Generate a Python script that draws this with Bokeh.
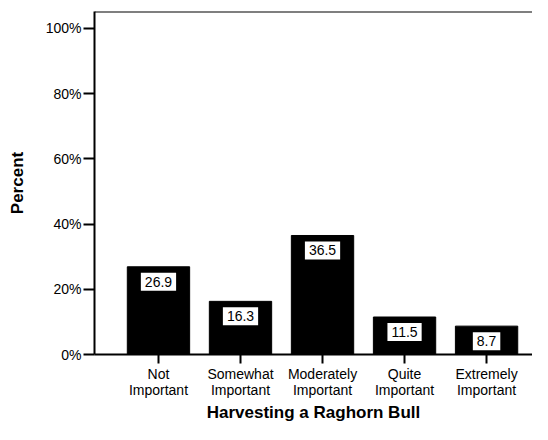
from bokeh.plotting import figure
from bokeh.models import FixedTicker, Range1d, Label, Span
from bokeh.embed import file_html
from bokeh.resources import INLINE

categories = ["Not\nImportant", "Somewhat\nImportant", "Moderately\nImportant",
              "Quite\nImportant", "Extremely\nImportant"]
percents = [26.9, 16.3, 36.5, 11.5, 8.7]
y_ticks = [0, 20, 40, 60, 80, 100]
y_tick_labels = ["0%", "20%", "40%", "60%", "80%", "100%"]
y_max = 105.2

FONT = "Liberation Sans"
xs = list(range(1, len(categories) + 1))

p = figure(width=532, height=424, output_backend="svg", toolbar_location=None,
           x_range=Range1d(0.22, 5.56), y_range=Range1d(0, y_max),
           min_border_left=94, min_border_right=0, min_border_top=11,
           min_border_bottom=69)
p.outline_line_color = None
p.xgrid.visible = False
p.ygrid.visible = False
p.background_fill_color = "white"
p.border_fill_color = "white"

p.vbar(x=xs, top=percents, width=0.76, fill_color="black", line_color="black")

for xv, v in zip(xs, percents):
    p.add_layout(Label(x=xv, y=v, y_offset=-15, text=f"{v}", text_align="center",
                       text_baseline="middle", text_font=FONT, text_font_size="14px",
                       text_color="black", background_fill_color="white",
                       padding=4))

# top border of the frame
p.add_layout(Span(location=y_max, dimension="width", line_color="black", line_width=2))

xa = p.xaxis[0]
xa.ticker = FixedTicker(ticks=xs)
xa.major_label_overrides = {x: c for x, c in zip(xs, categories)}
xa.axis_label = "Harvesting a Raghorn Bull"

ya = p.yaxis[0]
ya.ticker = FixedTicker(ticks=y_ticks)
ya.major_label_overrides = {t: l for t, l in zip(y_ticks, y_tick_labels)}
ya.axis_label = "Percent"

for ax in (xa, ya):
    ax.axis_line_width = 2
    ax.axis_line_color = "black"
    ax.major_tick_line_width = 2
    ax.major_tick_line_color = "black"
    ax.major_tick_in = 0
    ax.minor_tick_line_color = None
    ax.major_label_text_font = FONT
    ax.major_label_text_font_size = "14px"
    ax.major_label_text_color = "black"
    ax.axis_label_text_font = FONT
    ax.axis_label_text_font_size = "17px"
    ax.axis_label_text_font_style = "bold"
    ax.axis_label_text_color = "black"

xa.major_tick_out = 9
xa.major_label_standoff = 2
xa.major_label_text_line_height = 1.0
xa.axis_label_standoff = 2
ya.major_tick_out = 11
ya.major_label_standoff = 2
ya.axis_label_standoff = 16

open("out.html", "w").write(file_html(p, INLINE))
